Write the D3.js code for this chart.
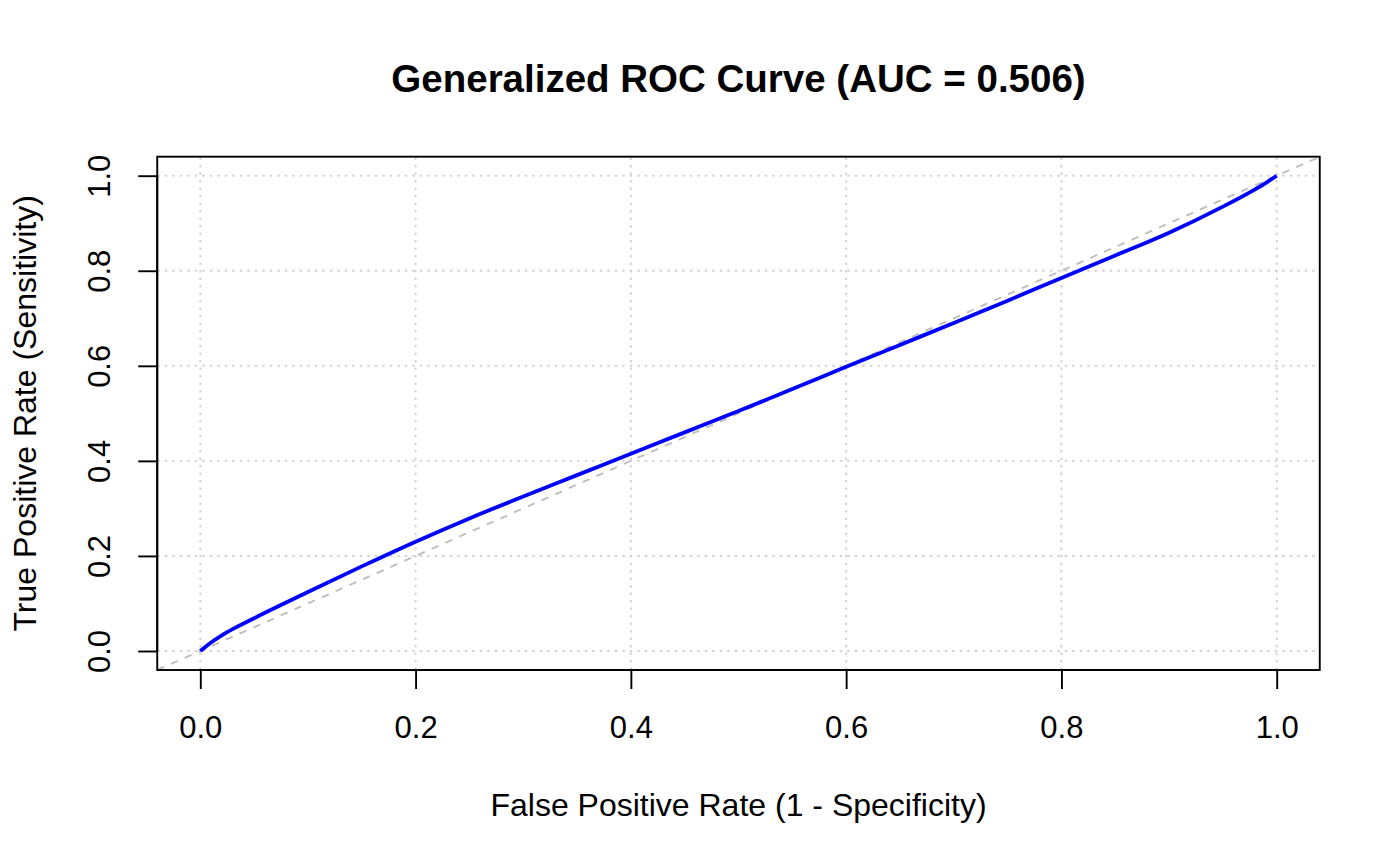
<!DOCTYPE html>
<html>
<head>
<meta charset="utf-8">
<script src="https://cdn.jsdelivr.net/npm/d3@7"></script>
<style>
  html, body { margin: 0; padding: 0; background: #ffffff; }
  svg { display: block; font-family: "Liberation Sans", Arial, Helvetica, sans-serif; }
</style>
</head>
<body>
<svg id="chart" width="1400" height="866"></svg>
<script>
// ---- data ----
const fpr = [0, 0.01, 0.02, 0.03, 0.05, 0.1, 0.15, 0.2, 0.25, 0.3, 0.35, 0.4, 0.45, 0.5, 0.55, 0.6, 0.65, 0.7, 0.75, 0.8, 0.85, 0.9, 0.95, 0.975, 0.99, 1];
const tpr = [0, 0.018, 0.033, 0.046, 0.069, 0.124, 0.178, 0.230, 0.279, 0.325, 0.370, 0.415, 0.460, 0.505, 0.551, 0.598, 0.644, 0.690, 0.737, 0.785, 0.832, 0.880, 0.935, 0.965, 0.985, 1];
const xTicks = [0, 0.2, 0.4, 0.6, 0.8, 1.0];
const yTicks = [0, 0.2, 0.4, 0.6, 0.8, 1.0];
const tickLabels = ["0.0", "0.2", "0.4", "0.6", "0.8", "1.0"];
const titleText = "Generalized ROC Curve (AUC = 0.506)";
const xLabel = "False Positive Rate (1 - Specificity)";
const yLabel = "True Positive Rate (Sensitivity)";

const svg = d3.select("#chart");
const x = d3.scaleLinear().domain([0, 1]).range([200.3, 1276.7]);
const y = d3.scaleLinear().domain([0, 1]).range([651, 175.7]);

const x0 = x(-0.04), x1 = x(1.04), y0 = y(-0.04), y1 = y(1.04);

// grid
const grid = svg.append("g");
grid.selectAll("line.v").data(xTicks).enter().append("line")
  .attr("x1", d => x(d)).attr("x2", d => x(d)).attr("y1", y0).attr("y2", y1)
  .attr("stroke", "#d3d3d3").attr("stroke-width", 1.9).attr("stroke-dasharray", "2.5,5");
grid.selectAll("line.h").data(yTicks).enter().append("line")
  .attr("x1", x0).attr("x2", x1).attr("y1", d => y(d)).attr("y2", d => y(d))
  .attr("stroke", "#d3d3d3").attr("stroke-width", 1.9).attr("stroke-dasharray", "2.5,5");

// clip to plot region
svg.append("clipPath").attr("id", "clip").append("rect")
  .attr("x", x0).attr("y", y1).attr("width", x1 - x0).attr("height", y0 - y1);

// diagonal reference
svg.append("line")
  .attr("clip-path", "url(#clip)")
  .attr("x1", x(-0.04)).attr("y1", y(-0.04)).attr("x2", x(1.04)).attr("y2", y(1.04))
  .attr("stroke", "#bebebe").attr("stroke-width", 1.9).attr("stroke-dasharray", "7.5,7.5");

// ROC curve
const pts = fpr.map((v, i) => [v, tpr[i]]);
const line = d3.line().x(d => x(d[0])).y(d => y(d[1])).curve(d3.curveMonotoneX);
svg.append("path").datum(pts)
  .attr("d", line).attr("fill", "none").attr("stroke", "#0000ff").attr("stroke-width", 3.8)
  .attr("stroke-linejoin", "round");

// box
svg.append("rect").attr("x", x0).attr("y", y1).attr("width", x1 - x0).attr("height", y0 - y1)
  .attr("fill", "none").attr("stroke", "#000").attr("stroke-width", 1.9);

// x axis
const xAxis = d3.axisBottom(x).tickValues(xTicks).tickFormat((d, i) => tickLabels[i]).tickSize(19).tickPadding(0);
const gx = svg.append("g").attr("transform", `translate(0,${y0})`).call(xAxis);
gx.select(".domain").attr("d", `M${x(0)},0H${x(1)}`).attr("stroke-width", 1.9);
gx.selectAll(".tick line").attr("stroke-width", 1.9);
gx.selectAll(".tick text").attr("font-size", 31).attr("font-family", null)
  .attr("fill", "#000").attr("dy", null).attr("y", 738.5 - y0);

// y axis
const yAxis = d3.axisLeft(y).tickValues(yTicks).tickFormat((d, i) => tickLabels[i]).tickSize(19).tickPadding(0);
const gy = svg.append("g").attr("transform", `translate(${x0},0)`).call(yAxis);
gy.select(".domain").attr("d", `M0,${y(0)}V${y(1)}`).attr("stroke-width", 1.9);
gy.selectAll(".tick line").attr("stroke-width", 1.9);
gy.selectAll(".tick text").attr("font-size", 31).attr("font-family", null).attr("fill", "#000")
  .attr("x", null).attr("dy", null).attr("text-anchor", "middle")
  .attr("transform", `translate(${110 - x0},0) rotate(-90)`);

// titles
svg.append("text").attr("x", (x0 + x1) / 2).attr("y", 92).attr("text-anchor", "middle")
  .attr("font-size", 38.5).attr("font-weight", "bold").text(titleText);
svg.append("text").attr("x", (x0 + x1) / 2).attr("y", 816).attr("text-anchor", "middle")
  .attr("font-size", 32).text(xLabel);
svg.append("text").attr("transform", `translate(36,${(y0 + y1) / 2}) rotate(-90)`)
  .attr("text-anchor", "middle").attr("font-size", 32).text(yLabel);
</script>
</body>
</html>
